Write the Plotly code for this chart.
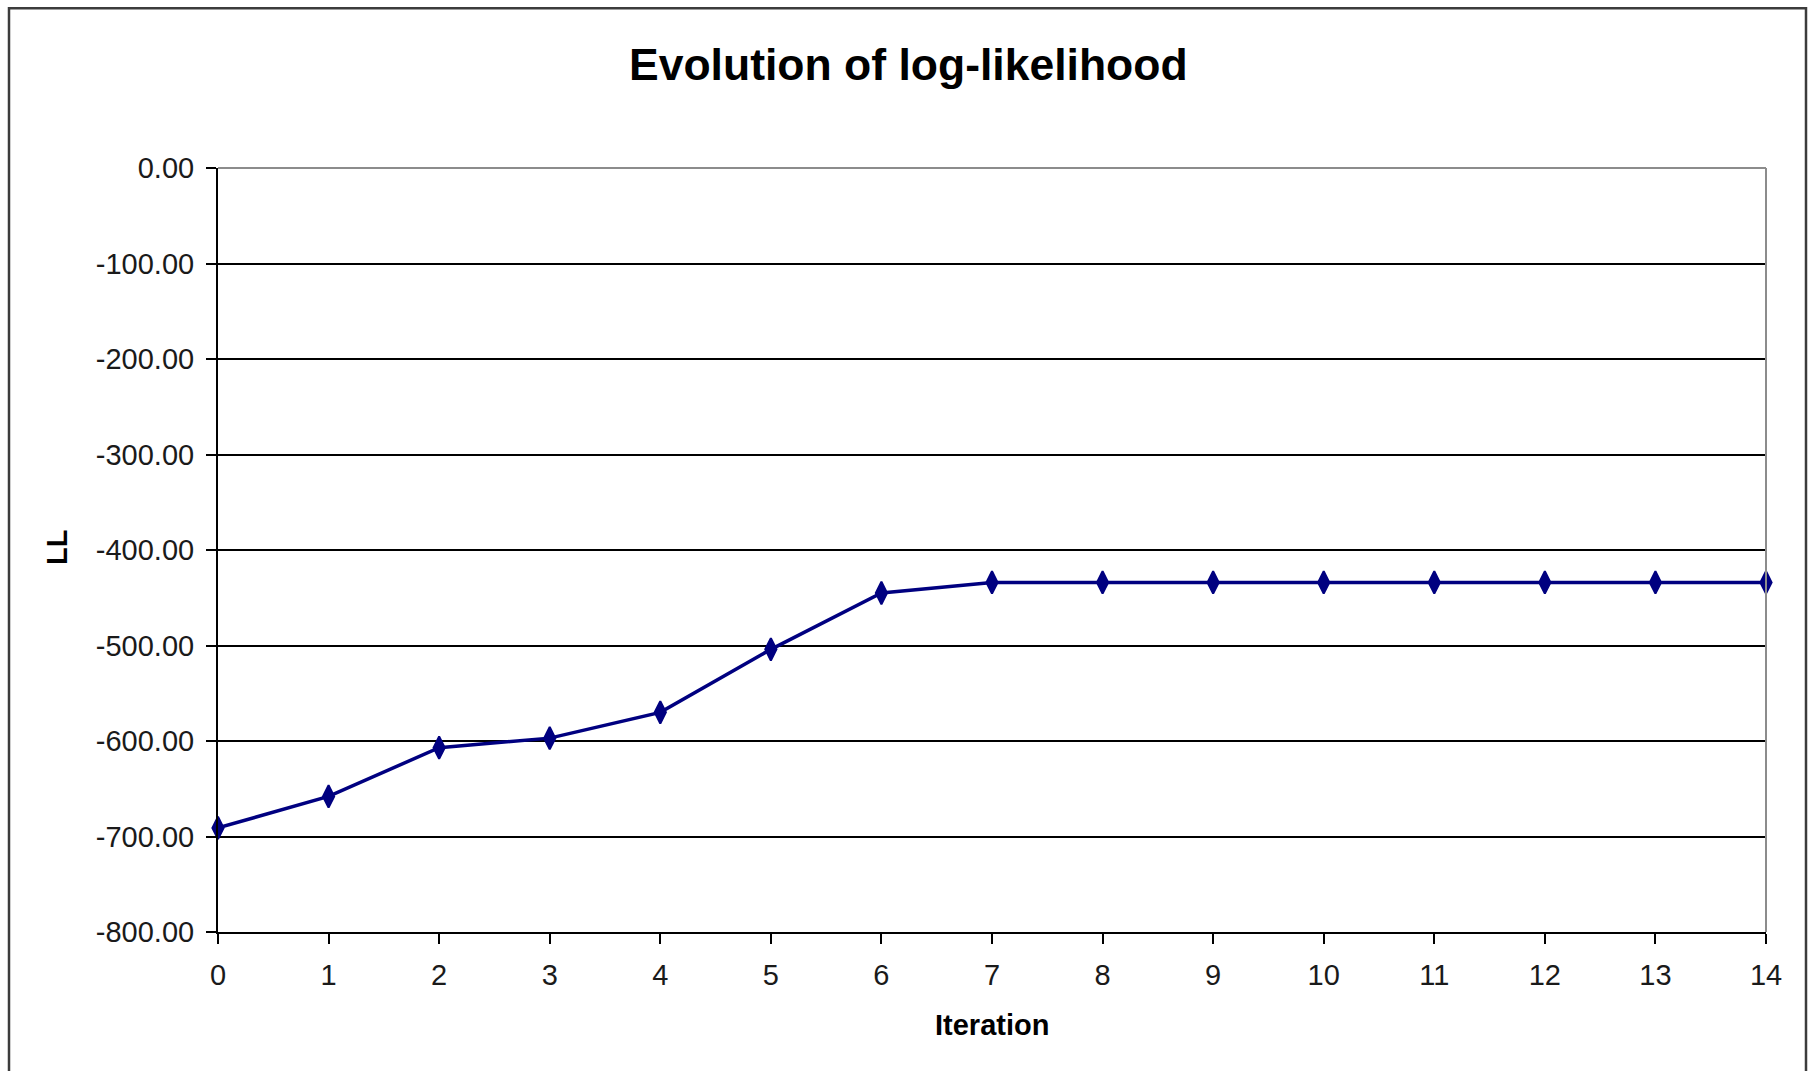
import plotly.graph_objects as go

iterations = list(range(15))
log_likelihood = [-691, -658, -607, -597, -570, -504, -445, -434, -434, -434, -434, -434, -434, -434, -434]
y_tick_vals = [0, -100, -200, -300, -400, -500, -600, -700, -800]
y_tick_text = ["0.00", "-100.00", "-200.00", "-300.00", "-400.00", "-500.00", "-600.00", "-700.00", "-800.00"]

W, H = 1811, 1071
L, R, T, B = 218, 1766, 167.5, 932.5

def px_x(p):
    return (p - L) / (R - L)

def px_y(p):
    return (B - p) / (B - T)

fig = go.Figure()
fig.add_trace(go.Scatter(
    x=iterations, y=log_likelihood, mode="lines+markers",
    line=dict(color="#000080", width=3.5),
    marker=dict(symbol="diamond-tall", size=16, color="#000080",
                line=dict(color="#000080", width=2)),
    showlegend=False, cliponaxis=False,
))

font_family = "Liberation Sans, Arial, sans-serif"

fig.update_layout(
    width=W, height=H,
    margin=dict(l=L, r=W - R, t=T, b=H - B),
    paper_bgcolor="white", plot_bgcolor="white",
    font=dict(family=font_family, color="#1a1a1a"),
    xaxis=dict(
        range=[0, 14], tickmode="array", tickvals=iterations,
        ticktext=[str(i) for i in iterations],
        showgrid=False, zeroline=False,
        showline=True, linecolor="black", linewidth=2,
        ticks="outside", ticklen=10, tickwidth=2, tickcolor="black",
        tickfont=dict(size=29, color="#1a1a1a"), ticklabelstandoff=6,
    ),
    yaxis=dict(
        range=[-800, 0], tickmode="array", tickvals=y_tick_vals, ticktext=y_tick_text,
        showgrid=True, gridcolor="black", gridwidth=2, zeroline=False,
        showline=True, linecolor="black", linewidth=2,
        ticks="outside", ticklen=10, tickwidth=2, tickcolor="black",
        tickfont=dict(size=29, color="#1a1a1a"), ticklabelstandoff=6,
    ),
    shapes=[
        dict(type="line", xref="paper", yref="paper", x0=0, x1=1, y0=1, y1=1,
             line=dict(color="#8c8c8c", width=2), layer="above"),
        dict(type="line", xref="paper", yref="paper", x0=1, x1=1, y0=0, y1=1,
             line=dict(color="#8c8c8c", width=2), layer="above"),
        dict(type="rect", xref="paper", yref="paper",
             x0=px_x(9), x1=px_x(1806), y0=px_y(1080), y1=px_y(7.5),
             line=dict(color="#3c3c3c", width=2.5), fillcolor="rgba(0,0,0,0)", layer="below"),
    ],
    annotations=[
        dict(text="<b>Evolution of log-likelihood</b>", xref="paper", yref="paper",
             x=px_x(908), y=px_y(64), xanchor="center", yanchor="middle",
             showarrow=False, font=dict(size=44.5, color="black", family=font_family)),
        dict(text="<b>LL</b>", xref="paper", yref="paper",
             x=px_x(57), y=px_y(548), xanchor="center", yanchor="middle", textangle=-90,
             showarrow=False, font=dict(size=29, color="black", family=font_family)),
        dict(text="<b>Iteration</b>", xref="paper", yref="paper",
             x=px_x(992), y=px_y(1026), xanchor="center", yanchor="middle",
             showarrow=False, font=dict(size=29, color="black", family=font_family)),
    ],
)

fig.write_html("out.html")
